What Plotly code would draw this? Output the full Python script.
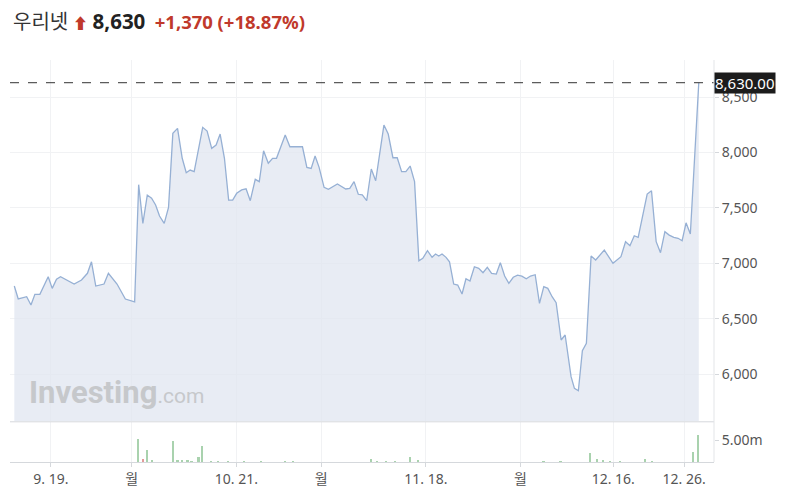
import plotly.graph_objects as go

# time in trading sessions relative to 9.19 (t=0)
t = [-3.82, -3.41, -2.53, -2.08, -1.67, -1.15, -0.28, 0.14, 0.59, 1.01, 2.43, 3.20, 3.82, 4.24, 4.69,
     5.55, 6.01, 6.49, 6.91, 7.78, 8.75, 9.17, 9.61, 10.07, 10.52, 10.94, 11.35, 11.84, 12.29, 12.74,
     13.23, 13.72, 14.14, 14.55, 14.97, 15.86, 16.32, 16.80, 17.26, 17.68, 18.13, 18.57, 18.99, 19.41,
     19.93, 20.39, 20.83, 21.35, 21.77, 22.22, 22.71, 23.16, 23.57, 24.48, 24.97, 26.28, 26.74, 27.19,
     27.60, 28.02, 28.54, 28.99, 29.93, 30.80, 31.22, 31.67, 32.11, 32.53, 32.99, 33.47, 33.93, 34.79,
     35.24, 35.73, 36.18, 36.64, 37.08, 37.53, 37.99, 38.44, 38.85, 39.34, 39.82, 40.18, 40.52, 40.86,
     41.28, 41.64, 42.08, 42.50, 42.95, 43.36, 43.78, 44.24, 44.69, 45.14, 45.59, 46.04, 46.53, 46.95,
     47.40, 47.84, 48.30, 48.75, 49.20, 49.66, 50.10, 50.59, 51.04, 51.49, 51.91, 52.36, 52.78, 53.30,
     53.72, 54.34, 54.69, 55.10, 55.52, 55.94, 56.43, 56.91, 57.81, 58.72, 59.55, 60.03, 60.49, 60.94,
     61.35, 62.29, 62.74, 63.23, 63.68, 64.14, 64.59, 65.07, 65.52, 65.94, 66.35, 66.80, 67.68]
price = [6795, 6678, 6699, 6624, 6720, 6720, 6879, 6774, 6856, 6879, 6813, 6849, 6910, 7014, 6795,
         6813, 6910, 6856, 6813, 6678, 6653, 7710, 7361, 7616, 7587, 7526, 7427, 7361, 7505, 8173,
         8218, 7948, 7818, 7842, 7827, 8227, 8194, 8038, 8068, 8167, 7948, 7571, 7571, 7632,
         7662, 7673, 7565, 7758, 7737, 8016, 7903, 7948, 7948, 8158, 8052, 8052, 7866, 7857,
         7968, 7866, 7686, 7668, 7716, 7671, 7677, 7737, 7623, 7617, 7565, 7851, 7745, 8248,
         8167, 7953, 7953, 7827, 7827, 7878, 7737, 7023, 7045, 7114, 7054, 7084, 7066, 7084,
         7054, 7014, 6813, 6804, 6723, 6861, 6840, 6969, 6955, 6915, 6964, 6910, 6903, 7006,
         6885, 6820, 6874, 6894, 6885, 6861, 6885, 6897, 6639, 6789, 6774, 6699, 6645, 6308,
         6353, 5977, 5872, 5850, 6211, 6278, 7066, 7030, 7120, 7000, 7060, 7195, 7159, 7249,
         7235, 7625, 7655, 7195, 7096, 7285, 7255, 7235, 7226, 7204, 7366, 7264, 8630]

vol_t = [9.06, 9.66, 10.0, 10.52, 12.71, 13.23, 13.65, 14.27, 14.69, 15.42, 15.83, 16.77, 17.5, 18.54,
         20.21, 21.98, 24.48, 25.31, 33.44, 34.06, 35.0, 35.94, 37.5, 38.33, 51.46, 53.23, 56.35,
         57.05, 57.71, 58.44, 59.48, 62.08, 62.81, 67.05, 67.64]
volume = [5.3e6, 0.7e6, 2.8e6, 0.3e6, 4.8e6, 0.3e6, 0.25e6, 0.25e6, 0.2e6, 1.05e6, 3.7e6, 0.2e6, 0.2e6,
          0.2e6, 0.15e6, 0.15e6, 0.15e6, 0.15e6, 0.75e6, 0.2e6, 0.2e6, 0.2e6, 1.05e6, 0.3e6, 0.1e6,
          0.15e6, 2.0e6, 0.7e6, 0.3e6, 0.15e6, 0.15e6, 0.7e6, 0.2e6, 2.3e6, 6.2e6]
vol_up = [True, False, True, True, True, True, True, True, True, True, True, True, True, True,
          True, True, True, True, True, True, True, True, True, True, True,
          True, True, True, True, True, True, True, True, True, True]

x_tickvals = [0, 8.44, 19.375, 28.23, 39.17, 49.06, 58.75, 66.15]
x_ticktext = ["9. 19.", "월", "10. 21.", "월", "11. 18.", "월", "12. 16.", "12. 26."]
y_ticks = [6000, 6500, 7000, 7500, 8000, 8500]
last_price = 8630

FONT = "Noto Sans, Noto Sans CJK KR, sans-serif"
GRID = "#f1f2f4"

W, H = 783, 495
L, R, T, B = 2, 77, 52, 41
PW, PH = W - L - R, H - T - B


def px(xp):
    return (xp - 8 - L) / PW


def py(yp):
    return (H - B - (yp - 8)) / PH


fig = go.Figure()
fig.add_trace(go.Scatter(x=t, y=price, mode="lines", line=dict(color="#96b0d4", width=1.3),
                         fill="tozeroy", fillcolor="rgba(224,230,240,0.75)", hoverinfo="skip",
                         yaxis="y"))
fig.add_trace(go.Bar(x=vol_t, y=volume, width=0.22,
                     marker=dict(color=["#a9d2ae" if u else "#e39a9a" for u in vol_up], line=dict(width=0)),
                     yaxis="y2", hoverinfo="skip"))

fig.add_shape(type="line", xref="paper", x0=0, x1=1, yref="y", y0=last_price, y1=last_price,
              line=dict(color="#333333", width=1, dash="dash"))
fig.add_shape(type="line", xref="paper", x0=0, x1=1, yref="paper", y0=0.1, y1=0.1,
              line=dict(color="#d5d8dc", width=1))
fig.add_shape(type="line", xref="paper", x0=1, x1=1, yref="paper", y0=0, y1=1,
              line=dict(color="#e3e5e8", width=1))

TICKFONT = dict(size=14, color="#555555")
fig.update_layout(
    width=W, height=H,
    margin=dict(l=L, r=R, t=T, b=B),
    paper_bgcolor="white", plot_bgcolor="white",
    showlegend=False, bargap=0,
    font=dict(family=FONT, size=14, color="#555555"),
    xaxis=dict(range=[-4.27, 69.27], tickvals=x_tickvals, ticktext=x_ticktext,
               showgrid=True, gridcolor=GRID, gridwidth=1, zeroline=False,
               ticks="outside", ticklen=4, tickcolor="#d5d8dc",
               showline=True, linecolor="#d5d8dc", linewidth=1,
               tickfont=TICKFONT, anchor="y2"),
    yaxis=dict(domain=[0.102, 1], range=[5577, 8835], side="right", tickvals=y_ticks,
               tickformat=",", showgrid=True, gridcolor=GRID, zeroline=False,
               ticks="outside", ticklen=4, tickcolor="#d5d8dc", tickfont=TICKFONT),
    yaxis2=dict(domain=[0, 0.0995], range=[0, 9.1e6], side="right", tickvals=[5e6],
                ticktext=["5.00m"], showgrid=False, zeroline=False,
                ticks="outside", ticklen=4, tickcolor="#d5d8dc", tickfont=TICKFONT),
)

fig.add_annotation(xref="paper", x=1, xanchor="left", yref="y", y=last_price,
                   yanchor="middle", text="8,630.00", showarrow=False,
                   font=dict(family=FONT, size=15, color="white"), bgcolor="#1c1c1c",
                   borderpad=0)

fig.add_annotation(xref="paper", x=px(11), xanchor="left", yref="paper", y=py(21),
                   yanchor="middle", showarrow=False, align="left",
                   text=("<span style='color:#333333;font-size:20px'>우리넷</span> "
                         "<span style='color:#c0392b;font-size:15px'>⬆</span> "
                         "<span style='color:#222222;font-size:20.5px'><b>8,630</b></span>  "
                         "<span style='color:#c0392b;font-size:18.5px'><b>+1,370</b></span> "
                         "<span style='color:#c0392b;font-size:18.5px'><b>(+18.87%)</b></span>"),
                   font=dict(family=FONT, size=18))

fig.add_annotation(xref="paper", x=px(27), xanchor="left", yref="paper", y=py(392),
                   yanchor="middle", showarrow=False,
                   text=("<b><span style='font-size:31px'>Investing</span></b>"
                         "<span style='font-size:21px'>.com</span>"),
                   font=dict(family="Roboto, sans-serif", color="#c6c8cb"))

fig.write_html("out.html")
